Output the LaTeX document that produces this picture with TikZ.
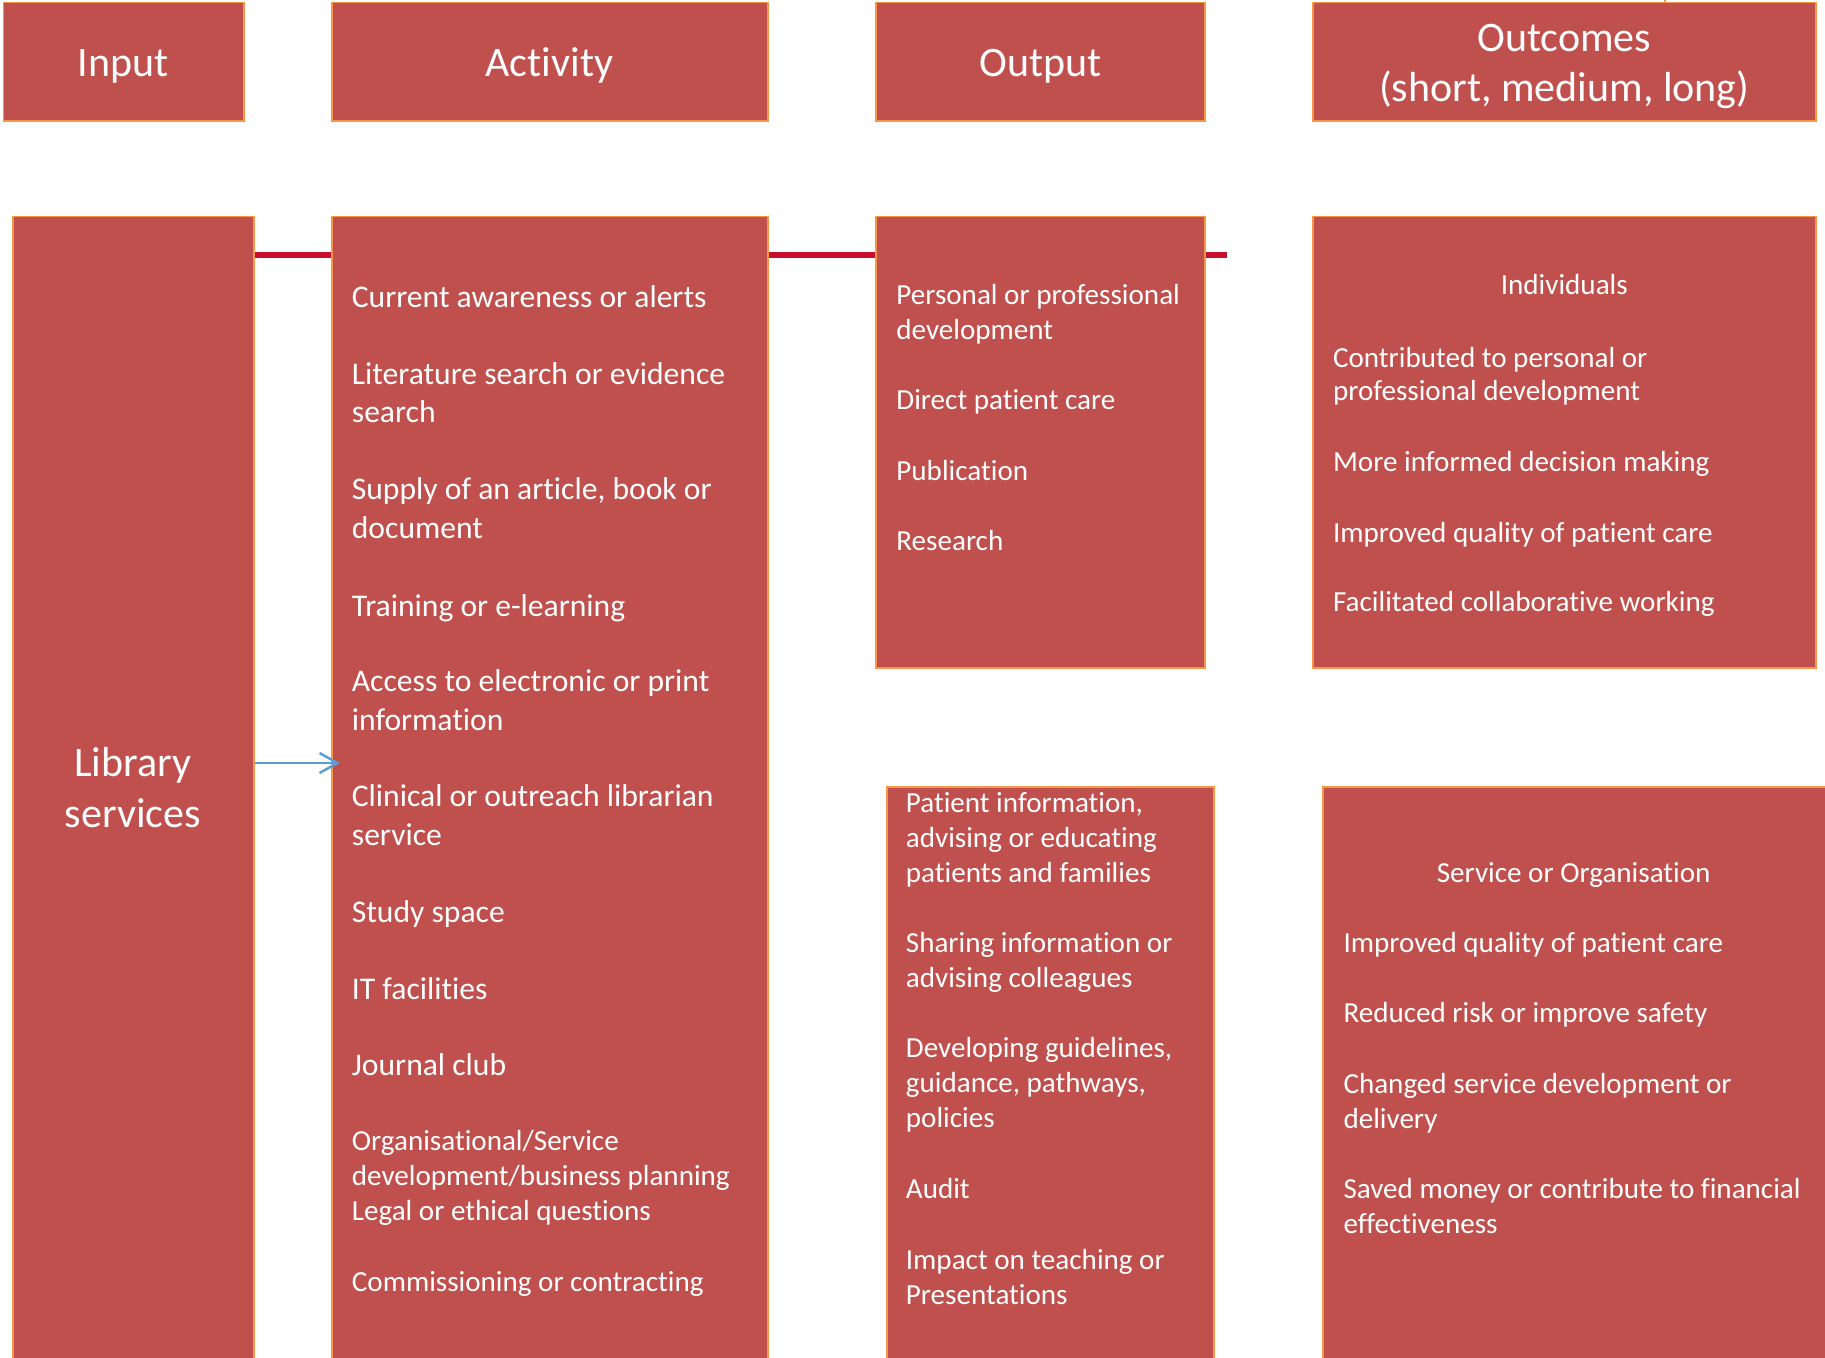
\documentclass[tikz,border=0pt]{standalone}
\usepackage{fontspec}
\setmainfont{Carlito}[Ligatures=NoCommon]
\usetikzlibrary{fit,arrows.meta,backgrounds}
\definecolor{boxfill}{RGB}{192,80,77}
\definecolor{boxline}{RGB}{247,150,70}
\definecolor{linkred}{RGB}{200,16,46}
\definecolor{arrowblue}{RGB}{91,155,213}
\tikzset{
  box/.style={draw=boxline, line width=0.75pt, fill=boxfill, inner sep=0pt},
  hdr/.style={text=white, font=\fontsize{21}{25}\selectfont, inner sep=0pt, anchor=base},
  big/.style={text=white, font=\fontsize{15.8}{19}\selectfont, inner sep=0pt, anchor=base west, yshift=-0.8pt},
  txt/.style={text=white, font=\fontsize{14.55}{17.5}\selectfont, inner sep=0pt, anchor=base west, yshift=-0.8pt},
  txtc/.style={text=white, font=\fontsize{14.55}{17.5}\selectfont, inner sep=0pt, anchor=base, yshift=-1pt},
  redlink/.style={draw=linkred, line width=3pt},
  bluearrow/.style={draw=arrowblue, line width=1.2pt, -{Straight Barb[length=9pt,width=10pt]}},
  tick/.style={draw=boxline, line width=0.6pt}
}
\begin{document}
\begin{tikzpicture}[x=0.5pt,y=-0.5pt]
\useasboundingbox (0,0) rectangle (1825,1357);
% header boxes
\node[box, fit={(3.5,2.3) (244,121)}] (hin) {};
\node[box, fit={(332,2.3) (768,121)}] (hact) {};
\node[box, fit={(876,2.3) (1205,121)}] (hout) {};
\node[box, fit={(1313,2.3) (1816,121)}] (hoc) {};
% body boxes
\node[box, fit={(13,216.5) (254,1362)}] (lib) {};
\node[box, fit={(332,216.5) (768,1362)}] (act) {};
\node[box, fit={(876,216.5) (1205,668)}] (out1) {};
\node[box, fit={(1313,216.5) (1816,668)}] (ind) {};
\node[box, fit={(887,787) (1214,1362)}] (out2) {};
\node[box, fit={(1323,787) (1830,1362)}] (svc) {};
% connectors
\coordinate (redend) at (1227,255);
\begin{pgfonlayer}{background}
\draw[redlink] (lib.east |- redend) -- (redend);
\end{pgfonlayer}
\coordinate (arrtip) at (340,763);
\draw[bluearrow] (lib.east |- arrtip) -- (arrtip);
\coordinate (ticktop) at (1665,-2);
\draw[tick] (ticktop) -- (ticktop |- hoc.north);
% header texts
\node[hdr] (hinT) at (123.4,76.7) {Input};
\node[hdr] (hactT) at (549.4,76.7) {Activity};
\node[hdr] (houtT) at (1040.5,76.7) {Output};
\node[hdr] (hocT1) at (1564.3,51) {Outcomes};
\node[hdr] (hocT2) at (1564.3,101) {(short, medium, long)};
\node[hdr] (libT1) at (132.7,776) {Library};
\node[hdr] (libT2) at (132.7,827) {services};
% activity texts
\node[big] (a1) at (351.5,306) {Current awareness or alerts};
\node[big] (a2a) at (351.5,383) {Literature search or evidence};
\node[big] (a2b) at (351.5,421.2) {search};
\node[big] (a3a) at (351.5,498) {Supply of an article, book or};
\node[big] (a3b) at (351.5,536.4) {document};
\node[big] (a4) at (351.5,614.4) {Training or e-learning};
\node[big] (a5a) at (351.5,690) {Access to electronic or print};
\node[big] (a5b) at (351.5,728.4) {information};
\node[big] (a6a) at (351.5,805.3) {Clinical or outreach librarian};
\node[big] (a6b) at (351.5,843.7) {service};
\node[big] (a7) at (351.5,920.5) {Study space};
\node[big] (a8) at (351.5,997.4) {IT facilities};
\node[big] (a9) at (351.5,1074.2) {Journal club};
\node[txt] (a10a) at (351.5,1149) {Organisational/Service};
\node[txt] (a10b) at (351.5,1184) {development/business planning};
\node[txt] (a10c) at (351.5,1219) {Legal or ethical questions};
\node[txt] (a11) at (351.5,1290) {Commissioning or contracting};
% output top
\node[txt] (o1a) at (896,303) {Personal or professional};
\node[txt] (o1b) at (896,338) {development};
\node[txt] (o2) at (896,407.7) {Direct patient care};
\node[txt] (o3) at (896,478.7) {Publication};
\node[txt] (o4) at (896,548.5) {Research};
% individuals
\node[txtc] (iT) at (1564.3,292.5) {Individuals};
\node[txt] (i1a) at (1332.7,365.5) {Contributed to personal or};
\node[txt] (i1b) at (1332.7,399) {professional development};
\node[txt] (i2) at (1332.7,469.4) {More informed decision making};
\node[txt] (i3) at (1332.7,540.4) {Improved quality of patient care};
\node[txt] (i4) at (1332.7,610.2) {Facilitated collaborative working};
% output bottom
\node[txt] (p1a) at (905.5,810.4) {Patient information,};
\node[txt] (p1b) at (905.5,845.4) {advising or educating};
\node[txt] (p1c) at (905.5,880.4) {patients and families};
\node[txt] (p2a) at (905.5,951.3) {Sharing information or};
\node[txt] (p2b) at (905.5,986.3) {advising colleagues};
\node[txt] (p3a) at (905.5,1056) {Developing guidelines,};
\node[txt] (p3b) at (905.5,1091) {guidance, pathways,};
\node[txt] (p3c) at (905.5,1126) {policies};
\node[txt] (p4) at (905.5,1196.8) {Audit};
\node[txt] (p5a) at (905.5,1267.8) {Impact on teaching or};
\node[txt] (p5b) at (905.5,1302.8) {Presentations};
% service or organisation
\node[txtc] (sT) at (1573.6,880.3) {Service or Organisation};
\node[txt] (s1) at (1343.1,951.3) {Improved quality of patient care};
\node[txt] (s2) at (1343.1,1021.1) {Reduced risk or improve safety};
\node[txt] (s3a) at (1343.1,1092.1) {Changed service development or};
\node[txt] (s3b) at (1343.1,1127.1) {delivery};
\node[txt] (s4a) at (1343.1,1196.8) {Saved money or contribute to financial};
\node[txt] (s4b) at (1343.1,1231.8) {effectiveness};
\end{tikzpicture}
\end{document}
